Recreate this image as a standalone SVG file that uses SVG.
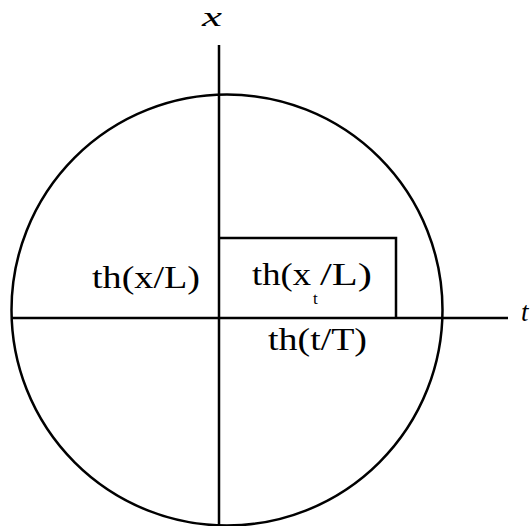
<svg xmlns="http://www.w3.org/2000/svg" width="531" height="526" viewBox="0 0 531 526">
<style>
.ln{fill:none;stroke:#000;stroke-width:2.5}
.lb{font-family:"Liberation Serif","DejaVu Serif",serif;font-size:31px;fill:#000}
.ax{font-family:"Liberation Serif","DejaVu Serif",serif;font-style:italic;font-size:27px;fill:#000}
.sub{font-family:"Liberation Serif","DejaVu Serif",serif;font-size:17px;fill:#000}
</style>
<rect width="531" height="526" fill="#fff"/>
<g id="circle"><circle class="ln" cx="227" cy="310" r="215.5"/></g>
<g id="connectors">
<line class="ln" x1="219" y1="45" x2="219" y2="526"/>
<line class="ln" x1="11" y1="318" x2="508" y2="318"/>
</g>
<g id="rect"><polyline class="ln" points="219,238 396,238 396,318"/></g>
<g id="labels">
<text class="ax" x="202" y="26" textLength="20" lengthAdjust="spacingAndGlyphs">x</text>
<text class="ax" x="521" y="321">t</text>
<text class="lb" x="92" y="288" textLength="108" lengthAdjust="spacingAndGlyphs">th(x/L)</text>
<text class="lb" x="252" y="285" textLength="59" lengthAdjust="spacingAndGlyphs">th(x</text>
<text class="sub" x="313" y="304">t</text>
<text class="lb" x="320" y="285" textLength="52" lengthAdjust="spacingAndGlyphs">/L)</text>
<text class="lb" x="268" y="350" textLength="99" lengthAdjust="spacingAndGlyphs">th(t/T)</text>
</g>
</svg>
